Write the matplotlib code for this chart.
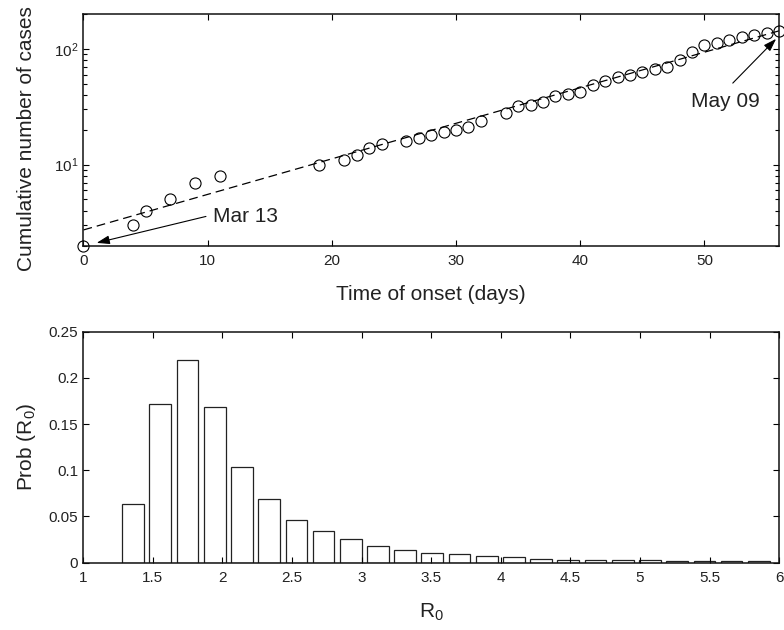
"""
Epidemic curve on a log scale (top) and the R0 probability histogram (bottom).
"""
import matplotlib
matplotlib.use("Agg")
import matplotlib.pyplot as plt
from matplotlib.ticker import FormatStrFormatter, NullFormatter

plt.rcParams["font.family"] = "Liberation Sans"
plt.rcParams["mathtext.fontset"] = "custom"
plt.rcParams["mathtext.rm"] = "Liberation Sans"
plt.rcParams["mathtext.it"] = "Liberation Sans"
plt.rcParams["mathtext.default"] = "regular"

# Cumulative cases by day of onset (day 0 = Mar 13, day 56 = May 09)
onset_day = [0, 4, 5, 7, 9, 11, 19, 21, 22, 23, 24, 26, 27, 28, 29, 30, 31, 32,
             34, 35, 36, 37, 38, 39, 40, 41, 42, 43, 44, 45, 46, 47, 48, 49,
             50, 51, 52, 53, 54, 55, 56]
cum_cases = [2, 3, 4, 5, 7, 8, 10, 11, 12, 14, 15, 16, 17, 18, 19, 20, 21, 24,
             28, 32, 33, 35, 39, 41, 42, 49, 53, 57, 59, 63, 67, 70, 80, 94,
             108, 113, 119, 126, 133, 136, 143]
fit_day = [0, 56]
fit_cases = [2.73, 143]

# Probability of R0 (bin centres)
r0_bins = [1.36, 1.555, 1.75, 1.946, 2.141, 2.337, 2.532, 2.727, 2.922, 3.118,
           3.313, 3.508, 3.704, 3.899, 4.094, 4.29, 4.485, 4.68, 4.876, 5.071,
           5.266, 5.462, 5.657, 5.852]
r0_prob = [0.063, 0.172, 0.219, 0.169, 0.104, 0.069, 0.046, 0.034, 0.025, 0.018,
           0.0138, 0.0099, 0.0088, 0.0074, 0.0056, 0.0042, 0.0031, 0.003, 0.003,
           0.0024, 0.002, 0.002, 0.0013, 0.0013]

label_size = 15
tick_size = 11
text_color = "#222222"

fig = plt.figure(figsize=(7.84, 6.3), dpi=100)
ax1 = fig.add_axes([0.1065, 0.6102, 0.8871, 0.3676])
ax2 = fig.add_axes([0.1059, 0.1071, 0.8881, 0.3663])

for ax in (ax1, ax2):
    for spine in ax.spines.values():
        spine.set_linewidth(1.1)
        spine.set_color("#111111")
    ax.tick_params(which="both", direction="in", top=True, right=True,
                   labelsize=tick_size, labelcolor=text_color, width=0.8)
    ax.tick_params(which="major", length=4.5, pad=6)
    ax.tick_params(which="minor", length=2.8)
    ax.tick_params(axis="y", which="major", pad=3.5)

# --- top: cumulative cases
ax1.plot(fit_day, fit_cases, color="k", lw=0.9, dashes=(7, 4))
ax1.plot(onset_day, cum_cases, "o", ms=8, mfc="none", mec="k", mew=0.8,
         clip_on=False, zorder=3)
ax1.set_yscale("log")
ax1.set_xlim(0, 56)
ax1.set_ylim(2, 200)
ax1.set_xticks(range(0, 51, 10))
ax1.yaxis.set_minor_formatter(NullFormatter())
ax1.set_xlabel("Time of onset (days)", fontsize=label_size, color=text_color)
ax1.set_ylabel("Cumulative number of cases", fontsize=label_size, color=text_color)
ax1.xaxis.set_label_coords(0.5, -0.17)
ax1.yaxis.set_label_coords(-0.068, 0.463)

arrow = dict(arrowstyle="-|>,head_length=0.6,head_width=0.2", color="k",
             lw=0.8, mutation_scale=13, shrinkA=0, shrinkB=0)
ax1.annotate("", xy=(1.06, 2.11), xytext=(9.86, 3.57), arrowprops=arrow)
ax1.text(10.44, 3.22, "Mar 13", fontsize=label_size, color=text_color,
         va="baseline")
ax1.annotate("", xy=(55.77, 122), xytext=(52.28, 50.6), arrowprops=arrow)
ax1.text(48.93, 31.5, "May 09", fontsize=label_size, color=text_color,
         va="baseline")

# --- bottom: R0 histogram
ax2.bar(r0_bins, r0_prob, width=0.156, color="white", edgecolor="#222222",
        linewidth=0.9)
ax2.set_xlim(1, 6)
ax2.set_ylim(0, 0.25)
ax2.set_xticks([1, 1.5, 2, 2.5, 3, 3.5, 4, 4.5, 5, 5.5, 6])
ax2.set_yticks([0, 0.05, 0.1, 0.15, 0.2, 0.25])
ax2.xaxis.set_major_formatter(FormatStrFormatter("%g"))
ax2.yaxis.set_major_formatter(FormatStrFormatter("%g"))
ax2.set_xlabel("R$_0$", fontsize=label_size, color=text_color)
ax2.set_ylabel("Prob (R$_0$)", fontsize=label_size, color=text_color)
ax2.xaxis.set_label_coords(0.5, -0.17)
ax2.yaxis.set_label_coords(-0.065, 0.5)

fig.savefig("out.png", dpi=100)
